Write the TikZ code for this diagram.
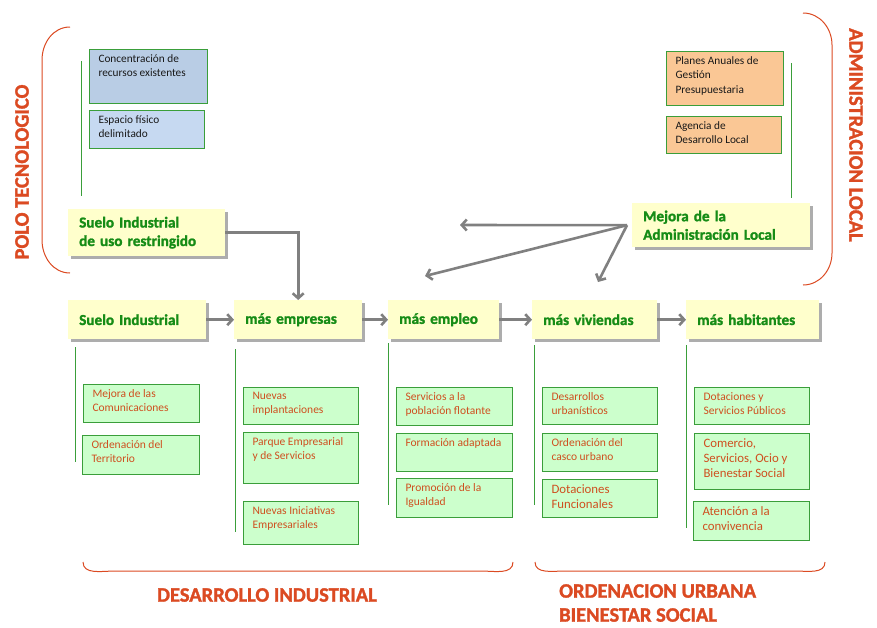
\documentclass[tikz,border=0pt]{standalone}
\usepackage{fontspec}
\setmainfont{Carlito}[BoldFont={Carlito Bold},BoldFeatures={FakeBold=1.5}]
\usetikzlibrary{arrows.meta,shadows}
\definecolor{bracered}{HTML}{DB4A22}
\definecolor{headgreen}{HTML}{168C16}
\definecolor{subred}{HTML}{CF4F1F}
\definecolor{boxgreen}{HTML}{3A9E3A}
\definecolor{subfill}{HTML}{CCFFCC}
\definecolor{headfill}{HTML}{FFFFCC}
\definecolor{bluefill}{HTML}{B9CDE5}
\definecolor{lightblue}{HTML}{C6D9F1}
\definecolor{orangefill}{HTML}{FAC795}
\definecolor{arrowgray}{HTML}{808080}
\begin{document}
\begin{tikzpicture}
[x=1pt,y=-1pt,
 headdecorate/.style={anchor=north west,fill=headfill,inner xsep=11pt,inner ysep=0pt,
   drop shadow={shadow xshift=2.5pt,shadow yshift=-2.5pt,fill=black!40,opacity=0.8},
   text=headgreen,font=\fontsize{15.2}{18.5}\selectfont\bfseries,align=left},
 leafdecorate/.style={anchor=north west,draw=boxgreen,line width=1pt,
   inner xsep=9pt,inner ysep=5pt},
 bracedecorate/.style={draw=bracered,line width=1pt},
 titledecorate/.style={text=bracered,font=\fontsize{20.5}{24}\selectfont\bfseries,inner sep=0pt},
 linedecorate/.style={-,draw=boxgreen,line width=1pt},
 arrowdecorate/.style={-{Straight Barb[length=5pt,width=11pt]},draw=arrowgray,line width=2.6pt}]
\useasboundingbox (0,0) rectangle (877,627);
%% brackets
\draw[bracedecorate] (70,27) to[out=180,in=90] (42,60) -- (42,240) to[out=-90,in=180] (70,273);
\draw[bracedecorate] (803,13) to[out=0,in=90] (832,45) -- (832,253) to[out=-90,in=0] (803,285);
\draw[bracedecorate] (83,562) to[out=-90,in=180] (115,571) -- (481,571) to[out=0,in=-90] (513,562);
\draw[bracedecorate] (535,562) to[out=-90,in=180] (565,571) -- (795,571) to[out=0,in=-90] (825,562);
%% titles
\node (polo) at (22,172) [titledecorate,rotate=90] {POLO TECNOLOGICO};
\node (admin) at (856,135) [titledecorate,rotate=-90] {ADMINISTRACION LOCAL};
\node (desind) at (267,595) [titledecorate] {DESARROLLO INDUSTRIAL};
\node (ordurb) at (559,603) [titledecorate,anchor=west,align=left] {ORDENACION URBANA\\BIENESTAR SOCIAL};
%% green lines
\foreach \x/\ya/\yb in {81/61/196, 791/63/198, 75/347/462, 235/349/532,
                        388/343/505, 534/345/505, 686/345/528} {
  \draw[linedecorate] (\x,\ya) -- (\x,\yb);
}
%% head boxes
\foreach \nodename/\x/\y/\w/\h/\txt in {sr/68/209/155/47/{Suelo Industrial\\de uso restringido},
    ma/632/203/176/44/{Mejora de la\\Administración Local},
    sI/68/300/136/39/{Suelo Industrial}, me/234/300/126/39/{más empresas},
    mem/388/300/109/39/{más empleo}, mv/532/300/123/39/{más viviendas},
    mh/686/300/131/39/{más habitantes}} {
  \pgfmathsetmacro{\tw}{\w-20}
  \node (\nodename) at (\x,\y) [headdecorate,minimum height=\h,text width=\tw pt] {\txt};
}
%% top boxes
\foreach \nodename/\x/\y/\w/\h/\col/\txt in {cr/89/49/118/54/bluefill/{Concentración de\\recursos existentes},
    ef/89/110/115/38/lightblue/{Espacio físico\\delimitado},
    pa/666/51/117/54/orangefill/{Planes Anuales de\\Gestión\\Presupuestaria},
    ad/666/116/115/37/orangefill/{Agencia de\\Desarrollo Local}} {
  \node (\nodename) at (\x,\y) [leafdecorate,fill=\col,text=black!90,
    font=\fontsize{11.3}{14.5}\selectfont]
    {\parbox[t][\dimexpr\h pt-10pt\relax][t]{\dimexpr\w pt-18pt\relax}{\txt}};
}
%% leaf boxes
\foreach \nodename/\x/\y/\w/\h/\fs/\bs/\txt in {
    c1a/83/384/116/38/11.5/14/{Mejora de las\\Comunicaciones},
    c1b/82/435/117/39/11.5/14/{Ordenación del\\Territorio},
    c2a/243/387/115/37/11.5/14/{Nuevas\\implantaciones},
    c2b/243/432/115/51/11.5/14/{Parque Empresarial\\y de Servicios},
    c2c/243/501/115/43/11.5/14/{Nuevas Iniciativas\\Empresariales},
    c3a/396/387/116/38/11.5/14/{Servicios a la\\población flotante},
    c3b/396/433/116/38/11.5/14/{Formación adaptada},
    c3c/396/478/116/39/11.5/14/{Promoción de la\\Igualdad},
    c4a/542/387/115/37/11.5/14/{Desarrollos\\urbanísticos},
    c4b/542/433/115/38/11.5/14/{Ordenación del\\casco urbano},
    c4c/542/479/115/38/12.8/15/{Dotaciones\\Funcionales},
    c5a/694/387/115/37/11.5/14/{Dotaciones y\\Servicios Públicos},
    c5b/694/433/115/56/12.8/15/{Comercio,\\Servicios, Ocio y\\Bienestar Social},
    c5c/693/501/116/39/12.8/15/{Atención a la\\convivencia}} {
  \node (\nodename) at (\x,\y) [leafdecorate,fill=subfill,text=subred,
    font=\fontsize{\fs}{\bs}\selectfont]
    {\parbox[t][\dimexpr\h pt-10pt\relax][t]{\dimexpr\w pt-18pt\relax}{\txt}};
}
%% arrows
\coordinate (mo) at ([xshift=-5pt]ma.west);
\coordinate (tleft) at (460,225);
\coordinate (templeo) at (425,276);
\coordinate (tviv) at (598,282);
\path
\foreach \startnode/\endnode in {sI/me, me/mem, mem/mv, mv/mh} {
  (\startnode) edge[arrowdecorate] (\endnode)
};
\draw[arrowdecorate] (sr.east) -| (me.north);
\foreach \endnode in {tleft, templeo, tviv} {
  \draw[arrowdecorate] (mo) -- (\endnode);
}
\end{tikzpicture}
\end{document}
